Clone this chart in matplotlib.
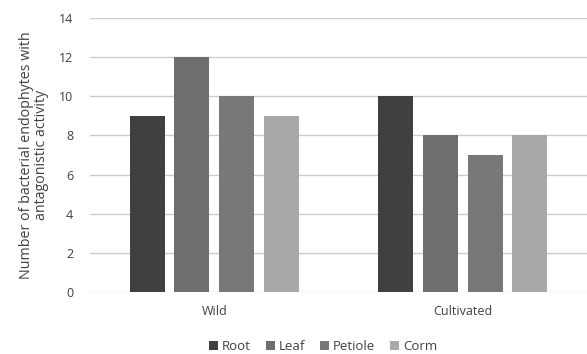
import matplotlib
matplotlib.use("Agg")
import matplotlib.pyplot as plt
import numpy as np

plt.rcParams['font.family'] = ['Open Sans', 'DejaVu Sans']

groups = ["Wild", "Cultivated"]
parts = ["Root", "Leaf", "Petiole", "Corm"]
root = [9, 10]
leaf = [12, 8]
petiole = [10, 7]
corm = [9, 8]
colors = ['#404040', '#6e6e6e', '#787878', '#a8a8a8']

fig = plt.figure(figsize=(5.87, 3.54), dpi=100)
ax = fig.add_axes([0.1533, 0.1751, 0.8467, 0.7740])

x = np.arange(len(groups))
width = 0.14
step = 0.18
for i, (vals, name) in enumerate(zip([root, leaf, petiole, corm], parts)):
    ax.bar(x + (i - 1.5) * step, vals, width, color=colors[i], label=name, zorder=3)

ax.set_xlim(-0.5, 1.5)
ax.set_ylim(0, 14)
ax.set_yticks(range(0, 15, 2))
ax.set_xticks(x)
ax.set_xticklabels(groups)
ax.grid(axis='y', color='#cccccc', linewidth=1, zorder=0)
for s in ax.spines.values():
    s.set_visible(False)
ax.tick_params(axis='both', length=0, labelsize=9, colors='#404040', pad=12)
ax.tick_params(axis='x', pad=9)
ax.set_ylabel("Number of bacterial endophytes with\nantagonistic activity",
              fontsize=10.3, color='#404040', labelpad=7, linespacing=1.05)

ax.legend(loc='center', bbox_to_anchor=(0.469, -0.2), ncol=4, frameon=False,
          fontsize=9.5, handlelength=0.7, handleheight=0.7, handletextpad=0.3,
          columnspacing=1.1, labelcolor='#404040')

fig.savefig("out.png", dpi=100)
